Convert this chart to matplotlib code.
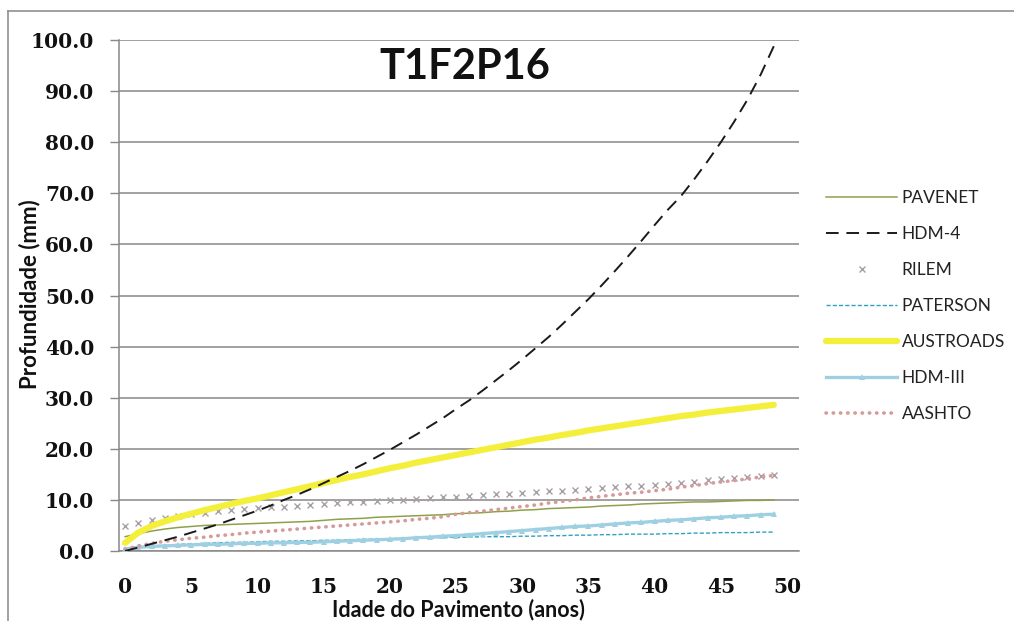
import matplotlib
matplotlib.use("Agg")
import matplotlib.pyplot as plt
from matplotlib.lines import Line2D

years = list(range(0, 50))

pavenet = [2.8, 3.4, 3.9, 4.3, 4.6, 4.8, 5.0, 5.1, 5.2, 5.3,
           5.4, 5.5, 5.6, 5.7, 5.8, 6.0, 6.2, 6.3, 6.4, 6.6,
           6.7, 6.8, 6.9, 7.0, 7.1, 7.3, 7.4, 7.5, 7.7, 7.8,
           8.0, 8.1, 8.3, 8.4, 8.5, 8.6, 8.8, 8.9, 9.0, 9.2,
           9.3, 9.4, 9.5, 9.6, 9.6, 9.7, 9.8, 9.9, 9.9, 10.0]

hdm4 = [0.0, 0.7, 1.4, 2.1, 2.8, 3.6, 4.4, 5.2, 6.1, 7.0,
        7.9, 8.9, 10.0, 11.0, 12.1, 13.3, 14.5, 15.7, 17.0, 18.4,
        19.8, 21.3, 22.8, 24.4, 26.0, 27.8, 29.5, 31.4, 33.4, 35.4,
        37.5, 39.7, 41.9, 44.3, 46.8, 49.3, 52.0, 54.8, 57.7, 60.7,
        63.8, 66.8, 69.5, 72.8, 76.3, 80.0, 84.0, 88.3, 93.2, 98.8]

rilem = [4.8, 5.5, 6.1, 6.5, 6.9, 7.2, 7.5, 7.8, 8.0, 8.2,
         8.4, 8.6, 8.7, 8.9, 9.0, 9.2, 9.3, 9.5, 9.6, 9.8,
         9.9, 10.0, 10.2, 10.3, 10.5, 10.6, 10.8, 10.9, 11.1, 11.2,
         11.4, 11.5, 11.7, 11.8, 12.0, 12.2, 12.3, 12.5, 12.7, 12.8,
         13.0, 13.2, 13.4, 13.6, 13.8, 14.0, 14.2, 14.4, 14.6, 14.8]

paterson = [0.5, 0.8, 1.0, 1.1, 1.3, 1.4, 1.5, 1.6, 1.7, 1.7,
            1.8, 1.9, 1.9, 2.0, 2.0, 2.1, 2.1, 2.2, 2.3, 2.3,
            2.4, 2.5, 2.5, 2.6, 2.6, 2.7, 2.7, 2.8, 2.8, 2.8,
            2.9, 2.9, 3.0, 3.0, 3.1, 3.1, 3.2, 3.2, 3.3, 3.3,
            3.3, 3.4, 3.4, 3.5, 3.5, 3.6, 3.6, 3.6, 3.7, 3.7]

austroads = [1.6, 3.6, 4.9, 5.8, 6.6, 7.3, 8.0, 8.6, 9.2, 9.8,
             10.3, 10.9, 11.5, 12.1, 12.7, 13.3, 13.9, 14.5, 15.0, 15.6,
             16.2, 16.7, 17.3, 17.8, 18.3, 18.8, 19.3, 19.8, 20.3, 20.8,
             21.3, 21.8, 22.2, 22.7, 23.1, 23.6, 24.0, 24.4, 24.8, 25.2,
             25.6, 26.0, 26.4, 26.7, 27.1, 27.4, 27.7, 28.0, 28.3, 28.6]

hdm3 = [0.4, 0.7, 0.9, 1.0, 1.1, 1.2, 1.3, 1.3, 1.4, 1.5,
        1.5, 1.6, 1.6, 1.7, 1.7, 1.8, 1.9, 2.0, 2.1, 2.2,
        2.3, 2.4, 2.6, 2.7, 2.9, 3.0, 3.2, 3.4, 3.6, 3.8,
        4.0, 4.2, 4.4, 4.6, 4.8, 4.9, 5.1, 5.3, 5.5, 5.6,
        5.8, 6.0, 6.1, 6.3, 6.5, 6.6, 6.8, 6.9, 7.1, 7.2]

aashto = [0.3, 1.0, 1.5, 1.9, 2.2, 2.5, 2.7, 3.0, 3.2, 3.5,
          3.7, 3.9, 4.1, 4.3, 4.5, 4.7, 4.9, 5.1, 5.3, 5.5,
          5.7, 5.9, 6.2, 6.4, 6.7, 7.2, 7.5, 7.8, 8.1, 8.4,
          8.7, 9.0, 9.4, 9.7, 10.0, 10.4, 10.7, 11.0, 11.3, 11.5,
          11.8, 12.1, 12.5, 12.8, 13.2, 13.5, 13.8, 14.1, 14.5, 14.8]

x_ticks = [0, 5, 10, 15, 20, 25, 30, 35, 40, 45, 50]
y_ticks = [0, 10, 20, 30, 40, 50, 60, 70, 80, 90, 100]

title = "T1F2P16"
xlabel = "Idade do Pavimento (anos)"
ylabel = "Profundidade (mm)"

W, H = 1014, 621
fig = plt.figure(figsize=(W / 100, H / 100), dpi=100)
fig.patch.set_facecolor("white")

ax_l, ax_r, ax_t, ax_b = 118.5, 799, 40, 551
ax = fig.add_axes([ax_l / W, 1 - ax_b / H, (ax_r - ax_l) / W, (ax_b - ax_t) / H])
ax.set_facecolor("white")

grid_col = "#888888"

ax.plot(years, pavenet, color="#8fa04a", lw=1.1, label="PAVENET", zorder=3)
ax.plot(years, hdm4, color="#1a1a1a", lw=1.4, linestyle=(0, (6.5, 4)), label="HDM-4", zorder=6)
ax.plot(years, rilem, linestyle="none", marker="x", markersize=5, markeredgewidth=1.0,
        color="#a8a0a4", label="RILEM", zorder=4)
ax.plot(years, paterson, color="#2fa2c0", lw=1.0, linestyle=(0, (3, 1.5)), label="PATERSON", zorder=4)
ax.plot(years, austroads, color="#f3ef3a", lw=4.5, solid_capstyle="round", label="AUSTROADS", zorder=5)
ax.plot(years, hdm3, color="#9fd0e2", lw=2.4, marker="^", markersize=3.8, markeredgewidth=0,
        label="HDM-III", zorder=4)
ax.plot(years, aashto, color="#d69a98", lw=2.6, linestyle=(0, (0.1, 1.9)), dash_capstyle="round",
        label="AASHTO", zorder=5)

ax.set_xlim(-0.5, 50.9)
ax.set_ylim(0, 100)
ax.set_xticks(x_ticks)
ax.set_yticks(y_ticks)
ax.set_yticklabels([f"{v:.1f}" for v in y_ticks])
ax.set_xticklabels([str(v) for v in x_ticks])

ax.yaxis.grid(True, color=grid_col, lw=1.1)
ax.set_axisbelow(True)
for s in ["top", "right"]:
    ax.spines[s].set_visible(False)
ax.spines["left"].set_color(grid_col)
ax.spines["left"].set_linewidth(1.1)
ax.spines["bottom"].set_color(grid_col)
ax.spines["bottom"].set_linewidth(1.1)

ax.tick_params(axis="y", direction="out", length=6.5, width=1.0, color=grid_col, pad=11)
ax.tick_params(axis="x", length=0, pad=19)
for lab in ax.get_xticklabels() + ax.get_yticklabels():
    lab.set_fontfamily("DejaVu Serif")
    lab.set_fontweight("bold")
    lab.set_fontsize(14.5)
    lab.set_color("#111111")

ax.set_xlabel(xlabel, fontfamily="Lato", fontweight="bold", fontsize=15.5, color="#111111")
ax.xaxis.label.set_va("center")
ax.xaxis.set_label_coords(0.5, (ax_b - 610) / (ax_b - ax_t))
ax.set_ylabel(ylabel, fontfamily="Lato", fontweight="bold", fontsize=16, color="#111111")
ax.yaxis.label.set_va("center")
ax.yaxis.set_label_coords((30 - ax_l) / (ax_r - ax_l), (ax_b - 294) / (ax_b - ax_t))

ax.text((465 - ax_l) / (ax_r - ax_l), (ax_b - 67) / (ax_b - ax_t), title, transform=ax.transAxes,
        ha="center", va="center", fontfamily="Lato", fontweight="bold", fontsize=30, color="#111111")

leg = fig.legend(loc="center left", bbox_to_anchor=(826 / W, 1 - 306 / H), frameon=False,
                 prop=dict(family="Lato", size=12.5), handlelength=4.1, handletextpad=0.25,
                 labelspacing=1.15, borderpad=0, borderaxespad=0, numpoints=1, markerscale=1.0)
for t in leg.get_texts():
    t.set_color("#222222")

# outer chart border (left and top visible)
fig.add_artist(Line2D([8 / W, 8 / W], [0, 1 - 11 / H], transform=fig.transFigure, color="#909090", lw=1.2))
fig.add_artist(Line2D([8 / W, 1], [1 - 11 / H, 1 - 11 / H], transform=fig.transFigure, color="#909090", lw=1.2))

fig.savefig("out.png", dpi=100, facecolor="white")
